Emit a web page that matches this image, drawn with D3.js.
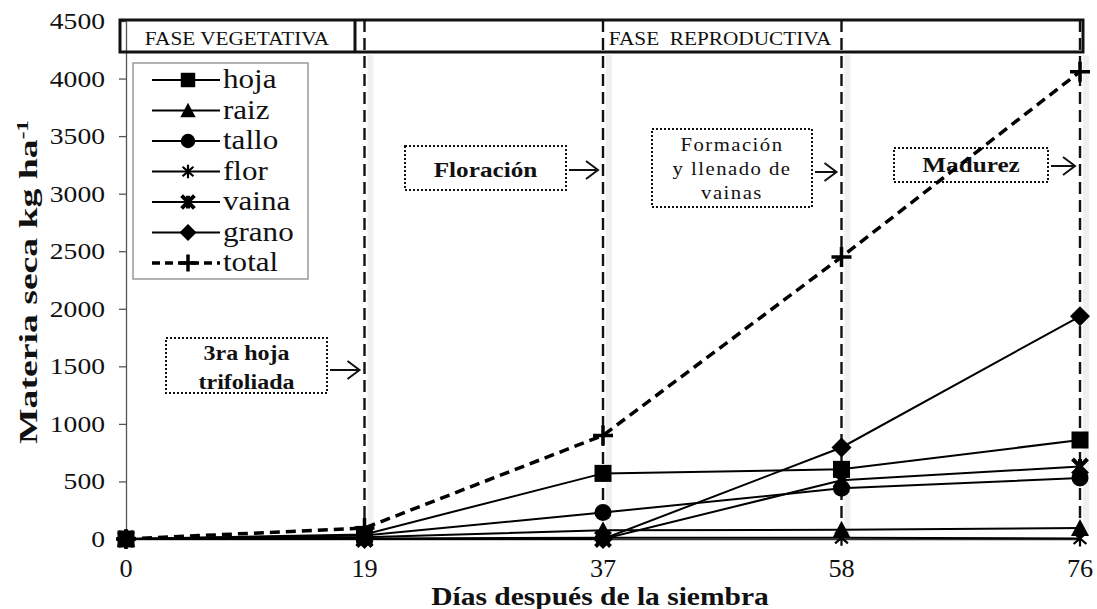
<!DOCTYPE html>
<html>
<head>
<meta charset="utf-8">
<script src="https://cdn.jsdelivr.net/npm/d3@7"></script>
<style>
  body { margin: 0; background: #fff; }
  svg { display: block; }
</style>
</head>
<body>
<svg id="chart" width="1097" height="609"></svg>
<script>
// categorias del eje x (dias despues de la siembra)
var days = ["0", "19", "37", "58", "76"];

// materia seca kg/ha por organo
var hoja  = [0, 40, 570, 605, 860];
var raiz  = [0, 15, 75, 80, 95];
var tallo = [0, 30, 230, 440, 530];
var flor  = [0, 5, 10, 10, 5];
var vaina = [0, 0, 0, 510, 630];
var grano = [0, 0, 0, 795, 1935];
var total = [0, 95, 900, 2450, 4060];

var yTicks = [0, 500, 1000, 1500, 2000, 2500, 3000, 3500, 4000, 4500];

var legendLabels = ["hoja", "raiz", "tallo", "flor", "vaina", "grano", "total"];

var series = [
  { name: "hoja",  values: hoja,  mark: "square" },
  { name: "raiz",  values: raiz,  mark: "triangle" },
  { name: "tallo", values: tallo, mark: "circle" },
  { name: "flor",  values: flor,  mark: "star" },
  { name: "vaina", values: vaina, mark: "xstar" },
  { name: "grano", values: grano, mark: "diamond" },
  { name: "total", values: total, mark: "plus", dashed: true }
];

var FONT = "Liberation Serif, Times New Roman, serif";

var svg = d3.select("#chart").attr("font-family", FONT).attr("fill", "#111");

var x = d3.scalePoint().domain(days).range([126, 1080]).padding(0);
var y = d3.scaleLinear().domain([0, 4500]).range([539, 21]);

// texto algo ensanchado, como en la imagen original
function stext(g, tx, ty, sx, size, str, opts) {
  opts = opts || {};
  var t = g.append("text")
    .attr("transform", "translate(" + tx + "," + ty + ")" + (opts.rot ? " rotate(" + opts.rot + ")" : "") + " scale(" + sx + ",1)")
    .attr("text-anchor", opts.anchor || "middle")
    .attr("font-size", size)
    .attr("font-weight", opts.bold ? "bold" : "normal");
  if (opts.ls) t.attr("letter-spacing", opts.ls);
  if (opts.pre) t.attr("xml:space", "preserve");
  t.text(str);
  return t;
}

// --- ejes
var yAxis = svg.append("g")
  .attr("transform", "translate(126,0)")
  .call(d3.axisLeft(y).tickValues(yTicks).tickFormat(d3.format("d"))
    .tickSize(7).tickSizeOuter(0));
yAxis.selectAll(".tick text").remove();
yAxis.selectAll("line, path").attr("stroke", "#555").attr("stroke-width", 1.3);
yTicks.forEach(function(v) {
  stext(svg, 105, y(v) + 8, 1.15, 24, String(v), { anchor: "end" });
});

var xAxis = svg.append("g")
  .attr("transform", "translate(0,539)")
  .call(d3.axisBottom(x).tickSize(0));
xAxis.select("path").attr("stroke", "#333").attr("stroke-width", 1.3);
xAxis.selectAll(".tick text").remove();
days.forEach(function(d) {
  stext(svg, x(d), 577, 1.05, 25, d);
});

// --- barra de fases
svg.append("rect")
  .attr("x", 120).attr("y", 20).attr("width", 963).attr("height", 32)
  .attr("fill", "none").attr("stroke", "#111").attr("stroke-width", 3);
svg.append("line")
  .attr("x1", 355).attr("x2", 355).attr("y1", 20).attr("y2", 52)
  .attr("stroke", "#111").attr("stroke-width", 3);
stext(svg, 237, 45, 1.12, 19, "FASE VEGETATIVA");
stext(svg, 720, 45, 1.12, 19, "FASE  REPRODUCTIVA", { pre: true });

// --- lineas verticales punteadas
var vDays = ["19", "37", "58", "76"];
svg.append("g").selectAll("line").data(vDays).enter().append("line")
  .attr("x1", function(d) { return x(d) + 6; }).attr("x2", function(d) { return x(d) + 6; })
  .attr("y1", 55).attr("y2", 536)
  .attr("stroke", "#000").attr("stroke-opacity", 0.06).attr("stroke-width", 6);
svg.append("g").selectAll("line").data(vDays).enter().append("line")
  .attr("x1", function(d) { return x(d); }).attr("x2", function(d) { return x(d); })
  .attr("y1", 20).attr("y2", 539)
  .attr("stroke", "#111").attr("stroke-width", 2.4).attr("stroke-dasharray", "12,6");

// --- anotaciones
var notes = [
  { lines: ["3ra hoja", "trifoliada"], base: [360, 389], box: [166, 338, 161, 55], bold: true, size: 20, sx: 1.2, day: "19", ay: 370 },
  { lines: ["Floración"], base: [177], box: [405, 146, 161, 44], bold: true, size: 21, sx: 1.2, day: "37", ay: 170 },
  { lines: ["Formación", "y llenado de", "vainas"], base: [151, 175, 199], box: [652, 129, 160, 78], bold: false, size: 18, sx: 1.15, ls: 1.3, day: "58", ay: 172 },
  { lines: ["Madurez"], base: [172], box: [894, 148, 154, 34], bold: true, size: 21, sx: 1.2, day: "76", ay: 166 }
];

var ng = svg.append("g");
notes.forEach(function(n) {
  var b = n.box;
  ng.append("rect")
    .attr("x", b[0]).attr("y", b[1]).attr("width", b[2]).attr("height", b[3])
    .attr("fill", "#fff").attr("stroke", "#111").attr("stroke-width", 2)
    .attr("stroke-dasharray", "2,2");
  n.lines.forEach(function(t, i) {
    stext(ng, b[0] + b[2] / 2, n.base[i], n.sx, n.size, t, { bold: n.bold, ls: n.ls });
  });
  // flecha
  var x1 = b[0] + b[2] + 3, x2 = x(n.day) - 5;
  ng.append("path")
    .attr("d", "M" + x1 + "," + n.ay + "H" + x2 + "M" + (x2 - 12) + "," + (n.ay - 9) + "L" + x2 + "," + n.ay + "L" + (x2 - 12) + "," + (n.ay + 9))
    .attr("fill", "none").attr("stroke", "#111").attr("stroke-width", 2);
});

// --- marcadores
function drawMark(g, type, cx, cy, s) {
  s = s || 1;
  var k = g.append("g").attr("transform", "translate(" + cx + "," + cy + ")");
  if (type === "square") {
    k.append("rect").attr("x", -8.5 * s).attr("y", -8.5 * s).attr("width", 17 * s).attr("height", 17 * s).attr("fill", "#000");
  } else if (type === "triangle") {
    k.append("path").attr("d", "M0," + (-9 * s) + "L" + (9 * s) + "," + (8 * s) + "L" + (-9 * s) + "," + (8 * s) + "Z").attr("fill", "#000");
  } else if (type === "circle") {
    k.append("circle").attr("r", 8.5 * s).attr("fill", "#000");
  } else if (type === "diamond") {
    k.append("path").attr("d", "M0," + (-10 * s) + "L" + (10 * s) + ",0L0," + (10 * s) + "L" + (-10 * s) + ",0Z").attr("fill", "#000");
  } else if (type === "star") {
    var r = 8 * s;
    k.append("path").attr("d", "M0," + (-r) + "V" + r + "M" + (-r * 0.8) + "," + (-r * 0.7) + "L" + (r * 0.8) + "," + (r * 0.7) + "M" + (-r * 0.8) + "," + (r * 0.7) + "L" + (r * 0.8) + "," + (-r * 0.7))
      .attr("stroke", "#000").attr("stroke-width", 2.2);
  } else if (type === "xstar") {
    var q = 7.5 * s;
    k.append("path").attr("d", "M" + (-q) + "," + (-q) + "L" + q + "," + q + "M" + (-q) + "," + q + "L" + q + "," + (-q) + "M0," + (-q) + "V" + q)
      .attr("stroke", "#000").attr("stroke-width", 4);
  } else if (type === "plus") {
    var p = 10 * s;
    k.append("path").attr("d", "M" + (-p) + ",0H" + p + "M0," + (-p) + "V" + p)
      .attr("stroke", "#000").attr("stroke-width", 3.5);
  }
}

// --- series
var line = d3.line()
  .x(function(d, i) { return x(days[i]); })
  .y(function(d) { return y(d); });

var sg = svg.append("g");
series.forEach(function(s) {
  sg.append("path")
    .attr("d", line(s.values))
    .attr("fill", "none")
    .attr("stroke", "#000")
    .attr("stroke-width", s.dashed ? 3.5 : 2)
    .attr("stroke-dasharray", s.dashed ? "10,6" : null);
});
series.forEach(function(s) {
  s.values.forEach(function(v, i) {
    drawMark(sg, s.mark, x(days[i]), y(v), 1);
  });
});

// --- leyenda
var lg = svg.append("g");
lg.append("rect")
  .attr("x", 133).attr("y", 63).attr("width", 175).attr("height", 216)
  .attr("fill", "#fff").attr("stroke", "#999").attr("stroke-width", 1.5);
series.forEach(function(s, i) {
  var ly = 80 + i * 30.5;
  lg.append("line")
    .attr("x1", 152).attr("x2", 220).attr("y1", ly).attr("y2", ly)
    .attr("stroke", "#000").attr("stroke-width", s.dashed ? 3.5 : 2)
    .attr("stroke-dasharray", s.dashed ? "8,5" : null);
  drawMark(lg, s.mark, 188, ly, 0.85);
  stext(lg, 223, ly + 8, 1.15, 27, legendLabels[i], { anchor: "start" });
});

// --- titulos de ejes
svg.append("text")
  .attr("transform", "translate(37,282) rotate(-90) scale(1.45,1)")
  .attr("text-anchor", "middle")
  .attr("font-size", 26).attr("font-weight", "bold")
  .html('Materia seca kg ha<tspan dy="-9" font-size="16">-1</tspan>');

stext(svg, 600, 605, 1.18, 25, "Días después de la siembra", { bold: true });
</script>
</body>
</html>
